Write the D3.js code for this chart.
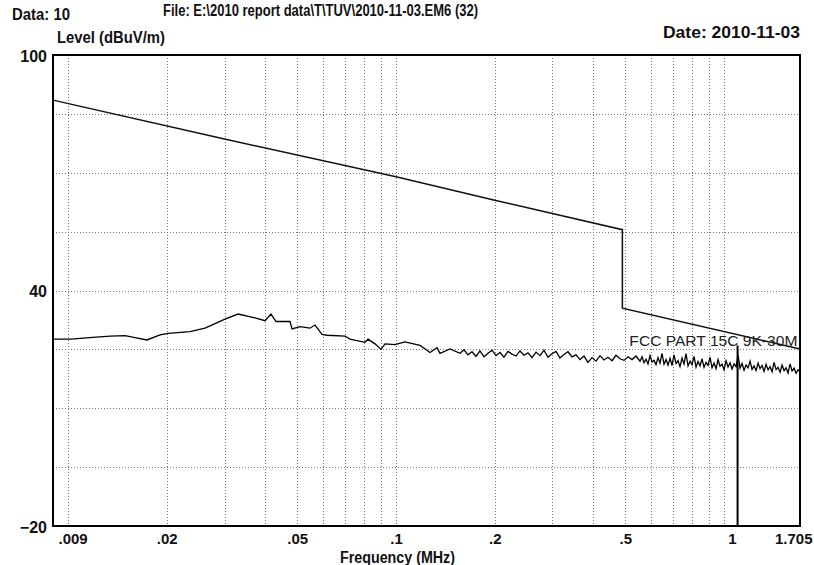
<!DOCTYPE html>
<html>
<head>
<meta charset="utf-8">
<script src="https://cdn.jsdelivr.net/npm/d3@7"></script>
<style>
  body { margin: 0; background: #fff; }
  svg { display: block; }
  .hdr { font-family: 'Liberation Sans', Arial, sans-serif; font-weight: bold; fill: #111; }
  .grid line { stroke: #777; stroke-width: 1; stroke-dasharray: 1,2; }
</style>
</head>
<body>
<div id="chart"></div>
<script>
// ---- data ----
var xTickValues = [0.009, 0.02, 0.05, 0.1, 0.2, 0.5, 1, 1.705];
var xTickLabels = [".009", ".02", ".05", ".1", ".2", ".5", "1", "1.705"];
var xGridValues = [0.01, 0.02, 0.03, 0.04, 0.05, 0.06, 0.07, 0.08, 0.09,
                   0.1, 0.2, 0.3, 0.4, 0.5, 0.6, 0.7, 0.8, 0.9, 1];
var yTickValues = [-20, 40, 100];
var yGridValues = [-5, 10, 25, 40, 55, 70, 85];

// FCC PART 15C 9K-30M limit
var limitFreq  = [0.009, 0.03, 0.1, 0.2, 0.49, 0.49, 1.705];
var limitLevel = [88.5, 78.6, 69.0, 63.0, 55.5, 35.5, 25.1];
var limitName = "FCC PART 15C 9K-30M";

// measured trace
var traceFreq = [
  0.009, 0.0102, 0.01164, 0.01343, 0.01492, 0.0160, 0.01741, 0.01908, 0.02018, 0.02355,
  0.02616, 0.0301, 0.03298, 0.03716, 0.03987, 0.04158, 0.04307, 0.04752, 0.0482, 0.05096,
  0.05467, 0.05663, 0.0595, 0.0616, 0.0699, 0.0724, 0.0804, 0.0822, 0.0863, 0.090,
  0.0926, 0.0993, 0.1065, 0.1184, 0.127, 0.1334, 0.1362, 0.146, 0.1567,
  0.1612, 0.1658, 0.1705, 0.1753, 0.1803, 0.1855, 0.1908, 0.1962, 0.2018, 0.2075,
  0.2134, 0.2195, 0.2258, 0.2322, 0.2388, 0.2456, 0.2526, 0.2598, 0.2672, 0.2748,
  0.2826, 0.2907, 0.2989, 0.3075, 0.3162, 0.3252, 0.3345, 0.3440, 0.3538, 0.3639,
  0.3743, 0.3849, 0.3959, 0.4072, 0.4188, 0.4307, 0.4430, 0.4556, 0.4686, 0.4819,
  0.4957, 0.5098, 0.5243, 0.5392,
  0.5546, 0.5624, 0.5704, 0.5785, 0.5866, 0.5949, 0.6033, 0.6118, 0.6205, 0.6293,
  0.6382, 0.6472, 0.6564, 0.6657, 0.6751, 0.6846, 0.6943, 0.7041, 0.7141, 0.7242,
  0.7344, 0.7448, 0.7553, 0.7660, 0.7768, 0.7878, 0.7990, 0.8103, 0.8217, 0.8333,
  0.8451, 0.8571, 0.8692, 0.8815, 0.8940, 0.9066, 0.9194, 0.9324, 0.9456, 0.9590,
  0.9726, 0.9863, 1.0003, 1.0144, 1.0288, 1.0433, 1.0581, 1.0731, 1.0883, 1.1037,
  1.1193, 1.1351, 1.1512, 1.1675, 1.1840, 1.2007, 1.2177, 1.2349, 1.2524, 1.2701,
  1.2881, 1.3063, 1.3248, 1.3435, 1.3626, 1.3818, 1.4014, 1.4212, 1.4414, 1.4617,
  1.4824, 1.5034, 1.5247, 1.5462, 1.5681, 1.5903, 1.6128, 1.6356, 1.6588, 1.6822,
  1.705
];
var traceLevel = [
  27.6, 27.6, 28.0, 28.4, 28.5, 28.0, 27.4, 28.7, 29.1, 29.5,
  30.4, 32.7, 34.0, 33.0, 32.3, 34.0, 32.1, 32.1, 30.2, 30.8,
  30.4, 31.2, 28.8, 28.6, 28.4, 27.6, 26.8, 27.6, 26.4, 25.0,
  26.4, 26.2, 26.9, 26.0, 24.2, 25.4, 24.0, 25.1, 24.0,
  24.9, 23.6, 24.4, 23.2, 24.6, 23.1, 24.0, 24.8, 23.4, 24.2,
  23.0, 24.5, 23.8, 23.3, 24.6, 23.5, 24.1, 22.9, 24.3, 23.4,
  24.8, 23.0, 23.9, 24.5, 22.8, 23.7, 24.4, 23.1, 23.6, 22.4,
  23.3, 21.7, 22.9, 22.0, 23.4, 22.3, 23.0, 22.1, 23.5, 22.6,
  22.2, 23.1, 22.4, 23.3,
  22.0, 23.1, 21.6, 22.5, 21.3, 23.4, 21.8, 22.2, 21.1, 22.9,
  21.5, 24.0, 21.2, 22.4, 21.0, 22.7, 20.9, 23.6, 21.4, 22.1,
  20.6, 22.8, 21.3, 23.9, 20.8, 22.0, 21.1, 23.2, 20.5, 21.9,
  20.8, 22.6, 20.4, 21.7, 20.9, 23.0, 20.3, 21.5, 20.1, 22.4,
  20.7, 21.2, 19.8, 22.1, 20.5, 21.6, 20.0, 21.3, 20.6, 23.5,
  20.2, 21.4, 19.7, 21.0, 20.3, 22.0, 19.9, 20.8, 19.6, 21.5,
  20.1, 20.9, 19.4, 21.2, 19.8, 20.6, 19.3, 21.7, 19.9, 20.4,
  19.2, 21.0, 19.6, 20.3, 19.0, 21.3, 19.5, 20.2, 18.9, 19.8,
  19.3
];

// marker drop seen near 1.1 MHz
var markerFreq = 1.1;
var markerLevel = 26;

var headerData = "Data: 10";
var headerFile = "File: E:\\2010 report data\\T\\TUV\\2010-11-03.EM6  (32)";
var headerDate = "Date: 2010-11-03";
var yTitle = "Level (dBuV/m)";
var xTitle = "Frequency (MHz)";

// ---- chart ----
var W = 814, H = 565;
var margin = { top: 55, right: 14, bottom: 39, left: 53 };
var plotW = W - margin.left - margin.right,
    plotH = H - margin.top - margin.bottom;

var x = d3.scaleLog().domain([0.009, 1.705]).range([0, plotW]);
var y = d3.scaleLinear().domain([-20, 100]).range([plotH, 0]);

var svg = d3.select("#chart").append("svg")
  .attr("width", W)
  .attr("height", H);

var g = svg.append("g")
  .attr("transform", "translate(" + margin.left + "," + margin.top + ")");

// grid
var grid = g.append("g").attr("class", "grid");
grid.selectAll(".vg").data(xGridValues).enter().append("line")
  .attr("class", "vg")
  .attr("x1", function(d) { return Math.round(x(d)) + 0.5; })
  .attr("x2", function(d) { return Math.round(x(d)) + 0.5; })
  .attr("y1", 0).attr("y2", plotH);
grid.selectAll(".hg").data(yGridValues).enter().append("line")
  .attr("class", "hg")
  .attr("y1", function(d) { return Math.round(y(d)) + 0.5; })
  .attr("y2", function(d) { return Math.round(y(d)) + 0.5; })
  .attr("x1", 0).attr("x2", plotW);

// axes
var xAxis = d3.axisBottom(x)
  .tickValues(xTickValues)
  .tickSize(0)
  .tickPadding(7)
  .tickFormat(function(d, i) { return xTickLabels[i]; });
var yAxis = d3.axisLeft(y)
  .tickValues(yTickValues)
  .tickSize(0)
  .tickPadding(6)
  .tickFormat(d3.format("d"));

var xa = g.append("g")
  .attr("transform", "translate(0," + plotH + ")")
  .call(xAxis);
var ya = g.append("g")
  .call(yAxis);

[xa, ya].forEach(function(a) {
  a.select(".domain").remove();
  a.selectAll("text")
    .attr("fill", "#111")
    .style("font-family", "'Liberation Sans', Arial, sans-serif")
    .style("font-weight", "bold")
    .style("font-size", "15px");
});
ya.selectAll("text").style("font-size", "16px").attr("dy", "0.4em");
xa.selectAll("text")
  .attr("text-anchor", function(d, i) {
    if (i === 0) return "start";
    if (i === xTickValues.length - 1) return "end";
    return "middle";
  })
  .attr("dx", function(d, i) {
    if (i === 0) return 5;
    if (i === xTickValues.length - 1) return 12;
    if (d === 1) return 8;
    return 0;
  });

// frame
g.append("rect")
  .attr("x", 0).attr("y", 0)
  .attr("width", plotW).attr("height", plotH)
  .attr("fill", "none")
  .attr("stroke", "#000")
  .attr("stroke-width", 2);

// limit line
var limitPts = limitFreq.map(function(f, i) { return [f, limitLevel[i]]; });
var line = d3.line()
  .x(function(d) { return x(d[0]); })
  .y(function(d) { return y(d[1]); });

g.append("path")
  .datum(limitPts)
  .attr("fill", "none")
  .attr("stroke", "#111")
  .attr("stroke-width", 1.5)
  .attr("d", line);

// trace
var tracePts = traceFreq.map(function(f, i) { return [f, traceLevel[i]]; });
g.append("path")
  .datum(tracePts)
  .attr("fill", "none")
  .attr("stroke", "#000")
  .attr("stroke-width", 1.3)
  .attr("d", line);

// marker
g.append("line")
  .attr("x1", x(markerFreq)).attr("x2", x(markerFreq))
  .attr("y1", y(markerLevel)).attr("y2", y(-20))
  .attr("stroke", "#000")
  .attr("stroke-width", 2);

// limit label
g.append("text")
  .attr("x", x(0.49) + 7)
  .attr("y", y(limitLevel[5]) + 38)
  .attr("fill", "#222")
  .attr("textLength", 168)
  .attr("lengthAdjust", "spacingAndGlyphs")
  .style("font-family", "'Liberation Sans', Arial, sans-serif")
  .style("font-size", "15px")
  .text(limitName);

// headers (bold face squeezed to the scan's narrow widths)
function header(txt, xp, yp, len, size, anchor) {
  svg.append("text").attr("class", "hdr")
    .attr("x", xp).attr("y", yp)
    .attr("text-anchor", anchor || "start")
    .attr("textLength", len)
    .attr("lengthAdjust", "spacingAndGlyphs")
    .style("font-size", size + "px")
    .text(txt);
}
header(headerData, 12, 20, 58, 16);
header(headerFile, 163, 16, 315, 16);
header(headerDate, 800, 38, 137, 16, "end");
header(yTitle, 57, 43, 108, 16);
header(xTitle, 340, 563, 115, 16);
</script>
</body>
</html>
